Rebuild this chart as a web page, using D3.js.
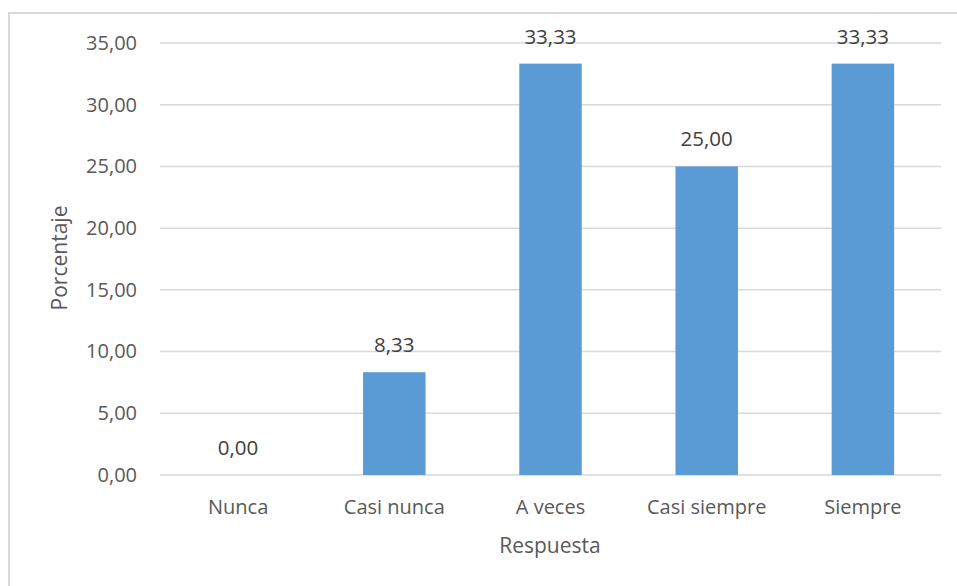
<!DOCTYPE html>
<html>
<head>
<meta charset="utf-8">
<script src="https://cdn.jsdelivr.net/npm/d3@7"></script>
<style>
  html, body { margin: 0; padding: 0; background: #fff; }
  svg { display: block; }
  text { font-family: "Open Sans", "Noto Sans", sans-serif; }
</style>
</head>
<body>
<svg id="chart" width="957" height="586"></svg>
<script>
// Survey responses and their percentages
const categories = ["Nunca", "Casi nunca", "A veces", "Casi siempre", "Siempre"];
const values = [0.00, 8.33, 33.33, 25.00, 33.33];
const yTicks = [0, 5, 10, 15, 20, 25, 30, 35];
const xTitle = "Respuesta";
const yTitle = "Porcentaje";

const fmt = v => v.toFixed(2).replace(".", ",");

const svg = d3.select("#chart");
const W = 957, H = 586;
const plot = { left: 160, right: 941, top: 43, bottom: 475 };

// Chart frame
svg.append("rect")
  .attr("x", 9).attr("y", 13)
  .attr("width", W + 10).attr("height", H + 10)
  .attr("fill", "#fff")
  .attr("stroke", "#d9d9d9")
  .attr("stroke-width", 2);

const x = d3.scaleBand()
  .domain(categories)
  .range([plot.left, plot.right])
  .paddingInner(0.6)
  .paddingOuter(0.3);

const y = d3.scaleLinear()
  .domain([0, 35])
  .range([plot.bottom, plot.top]);

// Horizontal gridlines
svg.append("g")
  .selectAll("line")
  .data(yTicks)
  .join("line")
  .attr("x1", plot.left).attr("x2", plot.right)
  .attr("y1", d => y(d)).attr("y2", d => y(d))
  .attr("stroke", "#d9d9d9")
  .attr("stroke-width", 1.5);

// Y axis labels
const yAxis = d3.axisLeft(y)
  .tickValues(yTicks)
  .tickFormat(fmt)
  .tickSize(0)
  .tickPadding(23);
const gy = svg.append("g")
  .attr("transform", `translate(${plot.left},0)`)
  .call(yAxis);
gy.select(".domain").remove();
gy.selectAll("text")
  .attr("fill", "#595959")
  .style("font-size", "20px")
  .style("font-family", "'Open Sans', sans-serif");

// Category labels
const xAxis = d3.axisBottom(x).tickSize(0).tickPadding(25);
const gx = svg.append("g")
  .attr("transform", `translate(0,${plot.bottom})`)
  .call(xAxis);
gx.select(".domain").remove();
gx.selectAll("text")
  .attr("fill", "#595959")
  .style("font-size", "20px")
  .style("font-family", "'Open Sans', sans-serif");

// Bars
svg.append("g")
  .selectAll("rect")
  .data(values)
  .join("rect")
  .attr("x", (d, i) => x(categories[i]))
  .attr("width", x.bandwidth())
  .attr("y", d => y(d))
  .attr("height", d => y(0) - y(d))
  .attr("fill", "#5b9bd5");

// Value labels
svg.append("g")
  .selectAll("text")
  .data(values)
  .join("text")
  .attr("x", (d, i) => x(categories[i]) + x.bandwidth() / 2)
  .attr("y", d => y(d) - 20)
  .attr("text-anchor", "middle")
  .attr("fill", "#404040")
  .style("font-size", "20.5px")
  .text(fmt);

// Axis titles
svg.append("text")
  .attr("x", 550).attr("y", 553)
  .attr("text-anchor", "middle")
  .attr("fill", "#595959")
  .style("font-size", "21px")
  .text(xTitle);

svg.append("text")
  .attr("transform", "translate(67,258) rotate(-90)")
  .attr("text-anchor", "middle")
  .attr("fill", "#595959")
  .style("font-size", "21px")
  .text(yTitle);
</script>
</body>
</html>
